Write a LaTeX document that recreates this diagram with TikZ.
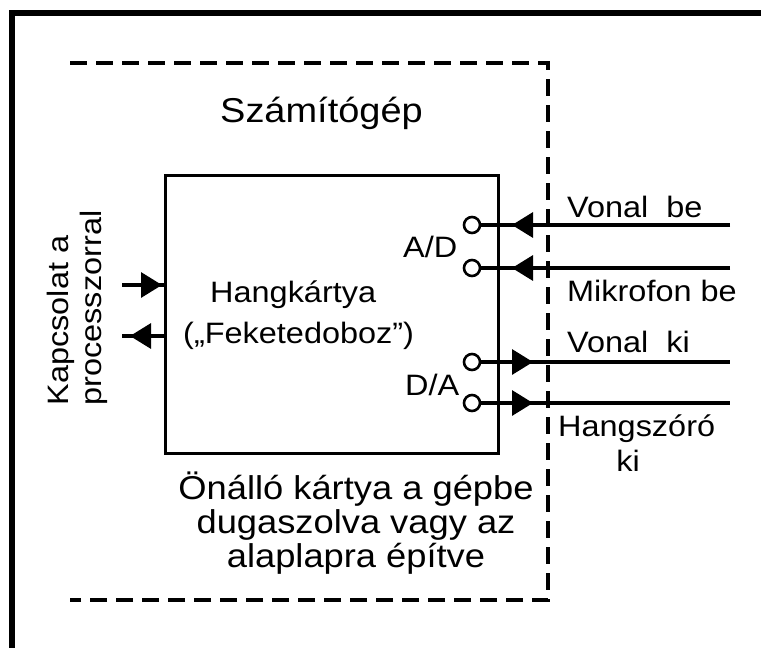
\documentclass[tikz,border=0pt]{standalone}
\usepackage{fontspec}
\setmainfont[FakeStretch=1.1]{Liberation Sans}
\usetikzlibrary{arrows.meta,decorations.markings}

\tikzset{
  wire/.style={line width=3.2pt},
  tipat/.style={postaction={decorate},decoration={markings,
      mark=at position #1 with {\arrow{Triangle[length=21pt,width=25pt]}}}},
  jack/.style={circle,draw,line width=2.6pt,fill=white,minimum size=16pt,inner sep=0pt},
  lbl/.style={font=\fontsize{29.5}{35}\selectfont,inner sep=0pt,anchor=base west},
  frame/.style={line width=6pt},
  boundary/.style={line width=4.5pt,dash pattern=on 17pt off 9pt},
}

\begin{document}
\begin{tikzpicture}[x=1pt,y=-1pt]
\useasboundingbox (0,0) rectangle (761,648);

% outer frame: top and left edges only
\draw[frame] (9,13) -- (761,13);
\draw[frame] (12,10) -- (12,648);

% computer boundary, open on the left
\draw[boundary] (70,63) -- (548,63) -- (548,600) -- (70,600);
\node[lbl,font=\fontsize{34.5}{40}\selectfont] (pc) at (220,122) {Számítógép};

% sound card
\node[draw,line width=3pt,minimum width=333pt,minimum height=278pt,inner sep=0pt] (card) at (331.5,314) {};
\node[lbl] (name1) at (210,302) {Hangkártya};
\node[lbl] (name2) at (183,343) {(„Feketedoboz\symbol{34})};
\node[lbl] (ad) at (403,257) {A/D};
\node[lbl] (da) at (405,395) {D/A};

% jacks
\node[jack] (j1) at (472,225) {};
\node[jack] (j2) at (472,268) {};
\node[jack] (j3) at (472,362) {};
\node[jack] (j4) at (472,403) {};

\coordinate (e1) at (730,225);
\coordinate (e2) at (730,268);
\coordinate (e3) at (730,362);
\coordinate (e4) at (730,403);

% inputs and outputs
\draw[wire,tipat=218pt] (e1) -- (j1);
\draw[wire,tipat=218pt] (e2) -- (j2);
\draw[wire,tipat=-197pt] (j3) -- (e3);
\draw[wire,tipat=-197pt] (j4) -- (e4);

\node[lbl] (vb) at (567,217) {Vonal\ \ be};
\node[lbl] (mb) at (567,301) {Mikrofon be};
\node[lbl] (vk) at (567,352) {Vonal\ \ ki};
\node[lbl] (hs) at (558,436) {Hangszóró};
\node[lbl,anchor=base] (hk) at (628,471) {ki};

% processor connection
\coordinate (p1) at (122,285);
\coordinate (p2) at (122,336);
\draw[wire,tipat=40pt] (p1) -- (p1 -| card.west);
\draw[wire,tipat=-8pt] (p2 -| card.west) -- (p2);
\node[font=\fontsize{29.5}{33}\selectfont,align=left,rotate=90,inner sep=0pt] (proc) at (77,308) {Kapcsolat a\\processzorral};

% note under the card (base anchor sits on the last line)
\node[font=\fontsize{33}{34}\selectfont,align=center,inner sep=0pt,anchor=base] (note) at (356,567)
  {Önálló kártya a gépbe\\dugaszolva vagy az\\alaplapra építve};
\end{tikzpicture}
\end{document}
